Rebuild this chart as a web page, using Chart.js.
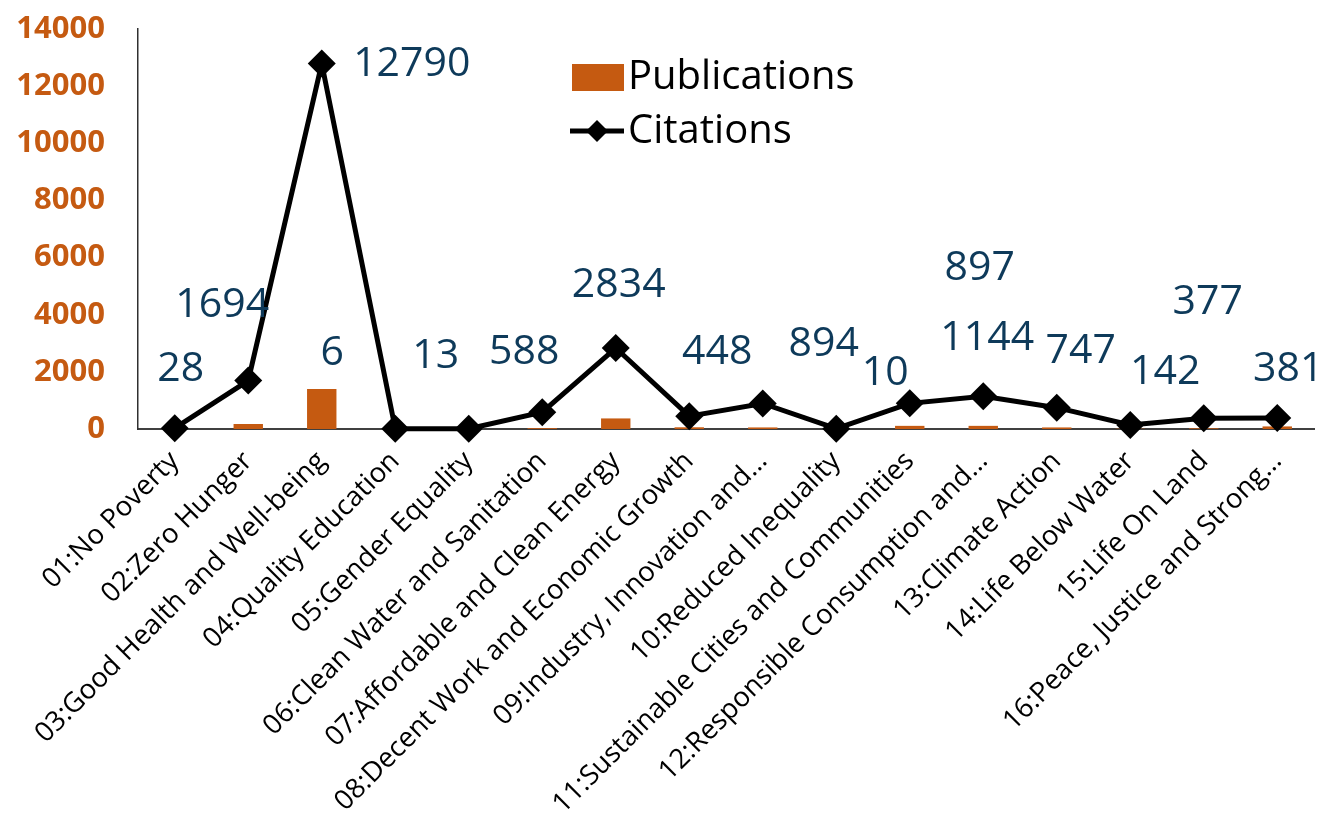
<!DOCTYPE html>
<html>
<head>
<meta charset="utf-8">
<script src="https://cdn.jsdelivr.net/npm/chart.js@4.4.0/dist/chart.umd.min.js"></script>
<style>
  html, body { margin: 0; padding: 0; background: #fff; }
  #wrap { width: 1328px; height: 827px; }
</style>
</head>
<body>
<div id="wrap"><canvas id="sdgChart" width="1328" height="827"></canvas></div>
<script>
// SDG categories
const categories = [
  "01:No Poverty",
  "02:Zero Hunger",
  "03:Good Health and Well-being",
  "04:Quality Education",
  "05:Gender Equality",
  "06:Clean Water and Sanitation",
  "07:Affordable and Clean Energy",
  "08:Decent Work and Economic Growth",
  "09:Industry, Innovation and\u2026",
  "10:Reduced Inequality",
  "11:Sustainable Cities and Communities",
  "12:Responsible Consumption and\u2026",
  "13:Climate Action",
  "14:Life Below Water",
  "15:Life On Land",
  "16:Peace, Justice and Strong\u2026"
];
const publications = [0, 175, 1400, 0, 0, 30, 370, 60, 55, 0, 110, 110, 55, 10, 25, 90];
const citations = [28, 1694, 12790, 6, 13, 588, 2834, 448, 894, 10, 897, 1144, 747, 142, 377, 381];
const yTicks = [0, 2000, 4000, 6000, 8000, 10000, 12000, 14000];

// where the citation labels sit relative to their marker (px), as in the original
const labelOffsets = [
  [6, -59], [-26, -75], [90, 1], [-63, -76], [-33, -72], [-18, -60], [3, -63], [28, -64],
  [61, -59], [49, -55], [70, -135], [4, -58], [24, -56], [35, -53], [4, -116], [11, -49]
];

const ORANGE = "#C55A11";
const LABEL_BLUE = "#0E3A5A";
const FONT = "'Open Sans', 'Liberation Sans', sans-serif";

// value labels next to the citation markers
const valueLabels = {
  id: "valueLabels",
  afterDatasetsDraw(chart) {
    const ctx = chart.ctx;
    const meta = chart.getDatasetMeta(1);
    ctx.save();
    ctx.font = "41px " + FONT;
    ctx.fillStyle = LABEL_BLUE;
    ctx.textAlign = "center";
    ctx.textBaseline = "middle";
    meta.data.forEach((pt, i) => {
      const off = labelOffsets[i];
      ctx.fillText(String(citations[i]), pt.x + off[0], pt.y + off[1]);
    });
    ctx.restore();
  }
};

// legend drawn inside the plot, stacked
const stackedLegend = {
  id: "stackedLegend",
  afterDraw(chart) {
    const ctx = chart.ctx;
    const ds = chart.data.datasets;
    ctx.save();
    ctx.font = "40px " + FONT;
    ctx.fillStyle = "#000";
    ctx.textAlign = "left";
    ctx.textBaseline = "middle";

    // bar swatch
    ctx.fillStyle = ds[0].backgroundColor;
    ctx.fillRect(572, 64, 52, 27);
    ctx.fillStyle = "#000";
    ctx.fillText(ds[0].label, 628, 78);

    // line + diamond swatch
    ctx.strokeStyle = ds[1].borderColor;
    ctx.lineWidth = 5;
    ctx.beginPath();
    ctx.moveTo(570, 131);
    ctx.lineTo(624, 131);
    ctx.stroke();
    ctx.beginPath();
    ctx.moveTo(597, 120);
    ctx.lineTo(608, 131);
    ctx.lineTo(597, 142);
    ctx.lineTo(586, 131);
    ctx.closePath();
    ctx.fillStyle = "#000";
    ctx.fill();
    ctx.fillText(ds[1].label, 628, 132);
    ctx.restore();
  }
};

const ctx = document.getElementById("sdgChart").getContext("2d");
new Chart(ctx, {
  type: "bar",
  data: {
    labels: categories,
    datasets: [
      {
        type: "bar",
        label: "Publications",
        data: publications,
        backgroundColor: ORANGE,
        barPercentage: 0.4,
        categoryPercentage: 1.0,
        order: 2
      },
      {
        type: "line",
        label: "Citations",
        data: citations,
        borderColor: "#000",
        borderWidth: 5,
        tension: 0,
        pointStyle: "rectRot",
        pointRadius: 14,
        pointHoverRadius: 14,
        pointBackgroundColor: "#000",
        pointBorderColor: "#000",
        pointBorderWidth: 0,
        clip: false,
        order: 1
      }
    ]
  },
  options: {
    responsive: false,
    animation: false,
    devicePixelRatio: 1,
    layout: { padding: { top: 29, right: 10, left: 0, bottom: 0 } },
    plugins: {
      legend: { display: false },
      tooltip: { enabled: false }
    },
    scales: {
      x: {
        grid: { display: false },
        border: { display: true, color: "#404040", width: 2 },
        ticks: {
          autoSkip: false,
          maxRotation: 45,
          minRotation: 45,
          padding: 8,
          color: "#000",
          font: { family: FONT, size: 27.5 }
        },
        afterFit(scale) { scale.height = 398; }
      },
      y: {
        min: 0,
        max: 14000,
        grid: { display: false, drawTicks: false },
        border: { display: true, color: "#303030", width: 1.5 },
        afterBuildTicks(scale) { scale.ticks = yTicks.map(v => ({ value: v })); },
        ticks: {
          padding: 33,
          color: ORANGE,
          font: { family: FONT, size: 31, weight: "bold" },
          callback: v => String(v)
        },
        afterFit(scale) {
          scale.width = 138;
          scale.paddingTop = 0;
          scale.paddingBottom = 0;
        }
      }
    }
  },
  plugins: [valueLabels, stackedLegend]
});
</script>
</body>
</html>
